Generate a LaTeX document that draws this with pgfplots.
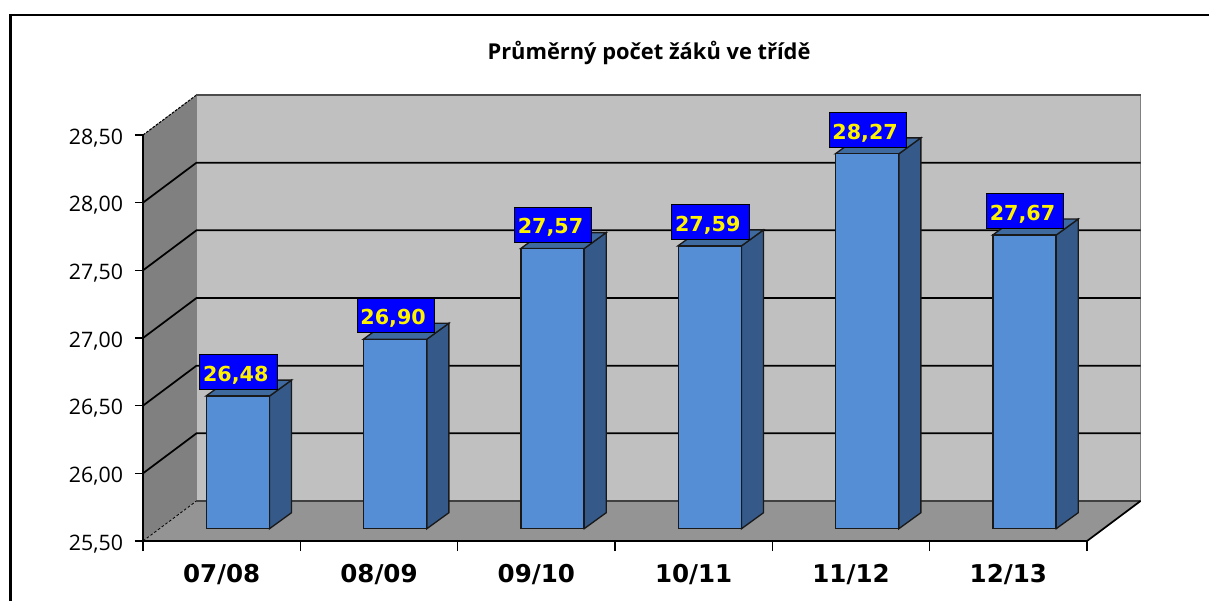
\documentclass[border=0pt]{standalone}
\usepackage{fontspec}
\setmainfont{Open Sans}
\newfontfamily\vb{DejaVu Sans}
\usepackage{pgfplots}
\usepackage{pgfplotstable}
\pgfplotsset{compat=1.18}
\definecolor{wallback}{HTML}{C0C0C0}
\definecolor{wallside}{HTML}{808080}
\definecolor{floorc}{HTML}{949494}
\definecolor{barfront}{HTML}{558ED5}
\definecolor{barside}{HTML}{355A8A}
\definecolor{bartop}{HTML}{3F6A9F}
\pgfplotstableread{
i v
0 26.48
1 26.90
2 27.57
3 27.59
4 28.27
5 27.67
}\avgdata
\begin{document}
\begin{tikzpicture}
\path[use as bounding box] (0pt,0pt) rectangle (906.75pt,450.75pt);
\draw[black,line width=2.2pt] (7.6pt,0pt) -- (7.6pt,439.5pt) -- (906.75pt,439.5pt);
% walls, floor, grid, axis labels
\begin{axis}[
  at={(107.25pt,45pt)}, anchor=south west, scale only axis,
  width=748.5pt, height=334.5pt,
  xmin=-0.5, xmax=5.8432, ymin=25.5, ymax=28.7956,
  clip=false,
  axis line style={draw=none},
  /pgf/number format/assume math mode=true,
  tick align=outside,
  xtick pos=bottom, ytick pos=left,
  xtick={0,1,2,3,4,5},
  xticklabels={07/08,08/09,09/10,10/11,11/12,12/13},
  minor xtick={-0.5,0.5,1.5,2.5,3.5,4.5,5.5},
  ytick={25.5,26,26.5,27,27.5,28,28.5},
  major x tick style={draw=none},
  minor x tick style={black,line width=0.8pt},
  y tick style={black,line width=0.8pt},
  major tick length=6pt, minor tick length=7.5pt,
  y tick label style={font=\fontsize{16}{18}\selectfont,xshift=-5.5pt,yshift=-2pt,
    /pgf/number format/.cd,use comma,fixed,fixed zerofill,precision=2},
  x tick label style={font=\vb\bfseries\fontsize{18.4}{20}\selectfont,yshift=-8pt},
  title={Průměrný počet žáků ve třídě},
  title style={at={(rel axis cs:0.507,1.0987)},anchor=center,yshift=-7.5pt,font=\bfseries\fontsize{16.4}{18}\selectfont},
]
\addplot[fill=wallback,draw=wallside,line width=1pt] coordinates {(-0.16,25.7956)(5.84,25.7956)(5.84,28.7956)(-0.16,28.7956)} -- cycle;
\addplot[fill=wallside,draw=none] coordinates {(-0.5,25.5)(-0.16,25.7956)(-0.16,28.7956)(-0.5,28.5)} -- cycle;
\addplot[fill=floorc,draw=none] coordinates {(-0.5,25.5)(5.5,25.5)(5.84,25.7956)(-0.16,25.7956)} -- cycle;
% grid
\addplot[black,line width=1.3pt] coordinates {(-0.5,26)(-0.16,26.2956)(5.84,26.2956)};
\addplot[black,line width=1.3pt] coordinates {(-0.5,26.5)(-0.16,26.7956)(5.84,26.7956)};
\addplot[black,line width=1.3pt] coordinates {(-0.5,27)(-0.16,27.2956)(5.84,27.2956)};
\addplot[black,line width=1.3pt] coordinates {(-0.5,27.5)(-0.16,27.7956)(5.84,27.7956)};
\addplot[black,line width=1.3pt] coordinates {(-0.5,28)(-0.16,28.2956)(5.84,28.2956)};
\addplot[black,dash pattern=on 2pt off 1pt,line width=0.8pt] coordinates {(-0.5,28.5)(-0.16,28.7956)};
\addplot[black!70,line width=1pt] coordinates {(-0.16,28.7956)(5.84,28.7956)};
\addplot[black,dash pattern=on 2pt off 1.5pt,line width=0.6pt] coordinates {(-0.5,25.5)(-0.16,25.7956)};
\addplot[black!75,line width=0.8pt] coordinates {(-0.16,25.7956)(5.84,25.7956)};
% front edges
\addplot[black,line width=1pt] coordinates {(-0.5,28.5)(-0.5,25.5)};
\addplot[black,line width=1.3pt] coordinates {(-0.5,25.5)(5.5,25.5)(5.84,25.7956)};
\end{axis}
% bars, standing on the floor behind the front edge
\begin{axis}[
  at={(119.31pt,54.225pt)}, anchor=south west, scale only axis,
  width=748.5pt, height=334.5pt,
  xmin=-0.5, xmax=5.8432, ymin=25.5, ymax=28.7956,
  clip=false, hide axis,
  /pgf/number format/assume math mode=true,
]
% side faces
\addplot[fill=barside,draw=black!90,line width=1pt] coordinates {(0.2018,25.5)(0.3416,25.618)(0.3416,26.598)(0.2018,26.48)} -- cycle;
\addplot[fill=barside,draw=black!90,line width=1pt] coordinates {(1.2018,25.5)(1.3416,25.618)(1.3416,27.018)(1.2018,26.90)} -- cycle;
\addplot[fill=barside,draw=black!90,line width=1pt] coordinates {(2.2018,25.5)(2.3416,25.618)(2.3416,27.688)(2.2018,27.57)} -- cycle;
\addplot[fill=barside,draw=black!90,line width=1pt] coordinates {(3.2018,25.5)(3.3416,25.618)(3.3416,27.708)(3.2018,27.59)} -- cycle;
\addplot[fill=barside,draw=black!90,line width=1pt] coordinates {(4.2018,25.5)(4.3416,25.618)(4.3416,28.388)(4.2018,28.27)} -- cycle;
\addplot[fill=barside,draw=black!90,line width=1pt] coordinates {(5.2018,25.5)(5.3416,25.618)(5.3416,27.788)(5.2018,27.67)} -- cycle;
% top faces
\addplot[fill=bartop,draw=black!90,line width=1pt] coordinates {(-0.2018,26.48)(0.2018,26.48)(0.3416,26.598)(-0.062,26.598)} -- cycle;
\addplot[fill=bartop,draw=black!90,line width=1pt] coordinates {(0.7982,26.90)(1.2018,26.90)(1.3416,27.018)(0.938,27.018)} -- cycle;
\addplot[fill=bartop,draw=black!90,line width=1pt] coordinates {(1.7982,27.57)(2.2018,27.57)(2.3416,27.688)(1.938,27.688)} -- cycle;
\addplot[fill=bartop,draw=black!90,line width=1pt] coordinates {(2.7982,27.59)(3.2018,27.59)(3.3416,27.708)(2.938,27.708)} -- cycle;
\addplot[fill=bartop,draw=black!90,line width=1pt] coordinates {(3.7982,28.27)(4.2018,28.27)(4.3416,28.388)(3.938,28.388)} -- cycle;
\addplot[fill=bartop,draw=black!90,line width=1pt] coordinates {(4.7982,27.67)(5.2018,27.67)(5.3416,27.788)(4.938,27.788)} -- cycle;
% front faces with value labels
\addplot[ybar,bar width=47.2pt,bar shift=0pt,fill=barfront,draw=black!90,line width=1pt,
  nodes near coords,
  nodes near coords style={
    /pgf/number format/.cd,use comma,fixed,fixed zerofill,precision=2,
    /tikz/.cd,
    anchor=south, yshift=4.5pt, xshift=0.5pt,
    fill=blue, draw=black, line width=0.7pt, text=yellow,
    font=\vb\bfseries\fontsize{15.5}{17}\selectfont,
    minimum height=26pt, text width=53pt, inner xsep=2.5pt, inner ysep=0pt, align=left,
    text height=13.5pt, text depth=0pt,
  },
] table[x=i,y=v] {\avgdata};
\end{axis}
\end{tikzpicture}
\end{document}
